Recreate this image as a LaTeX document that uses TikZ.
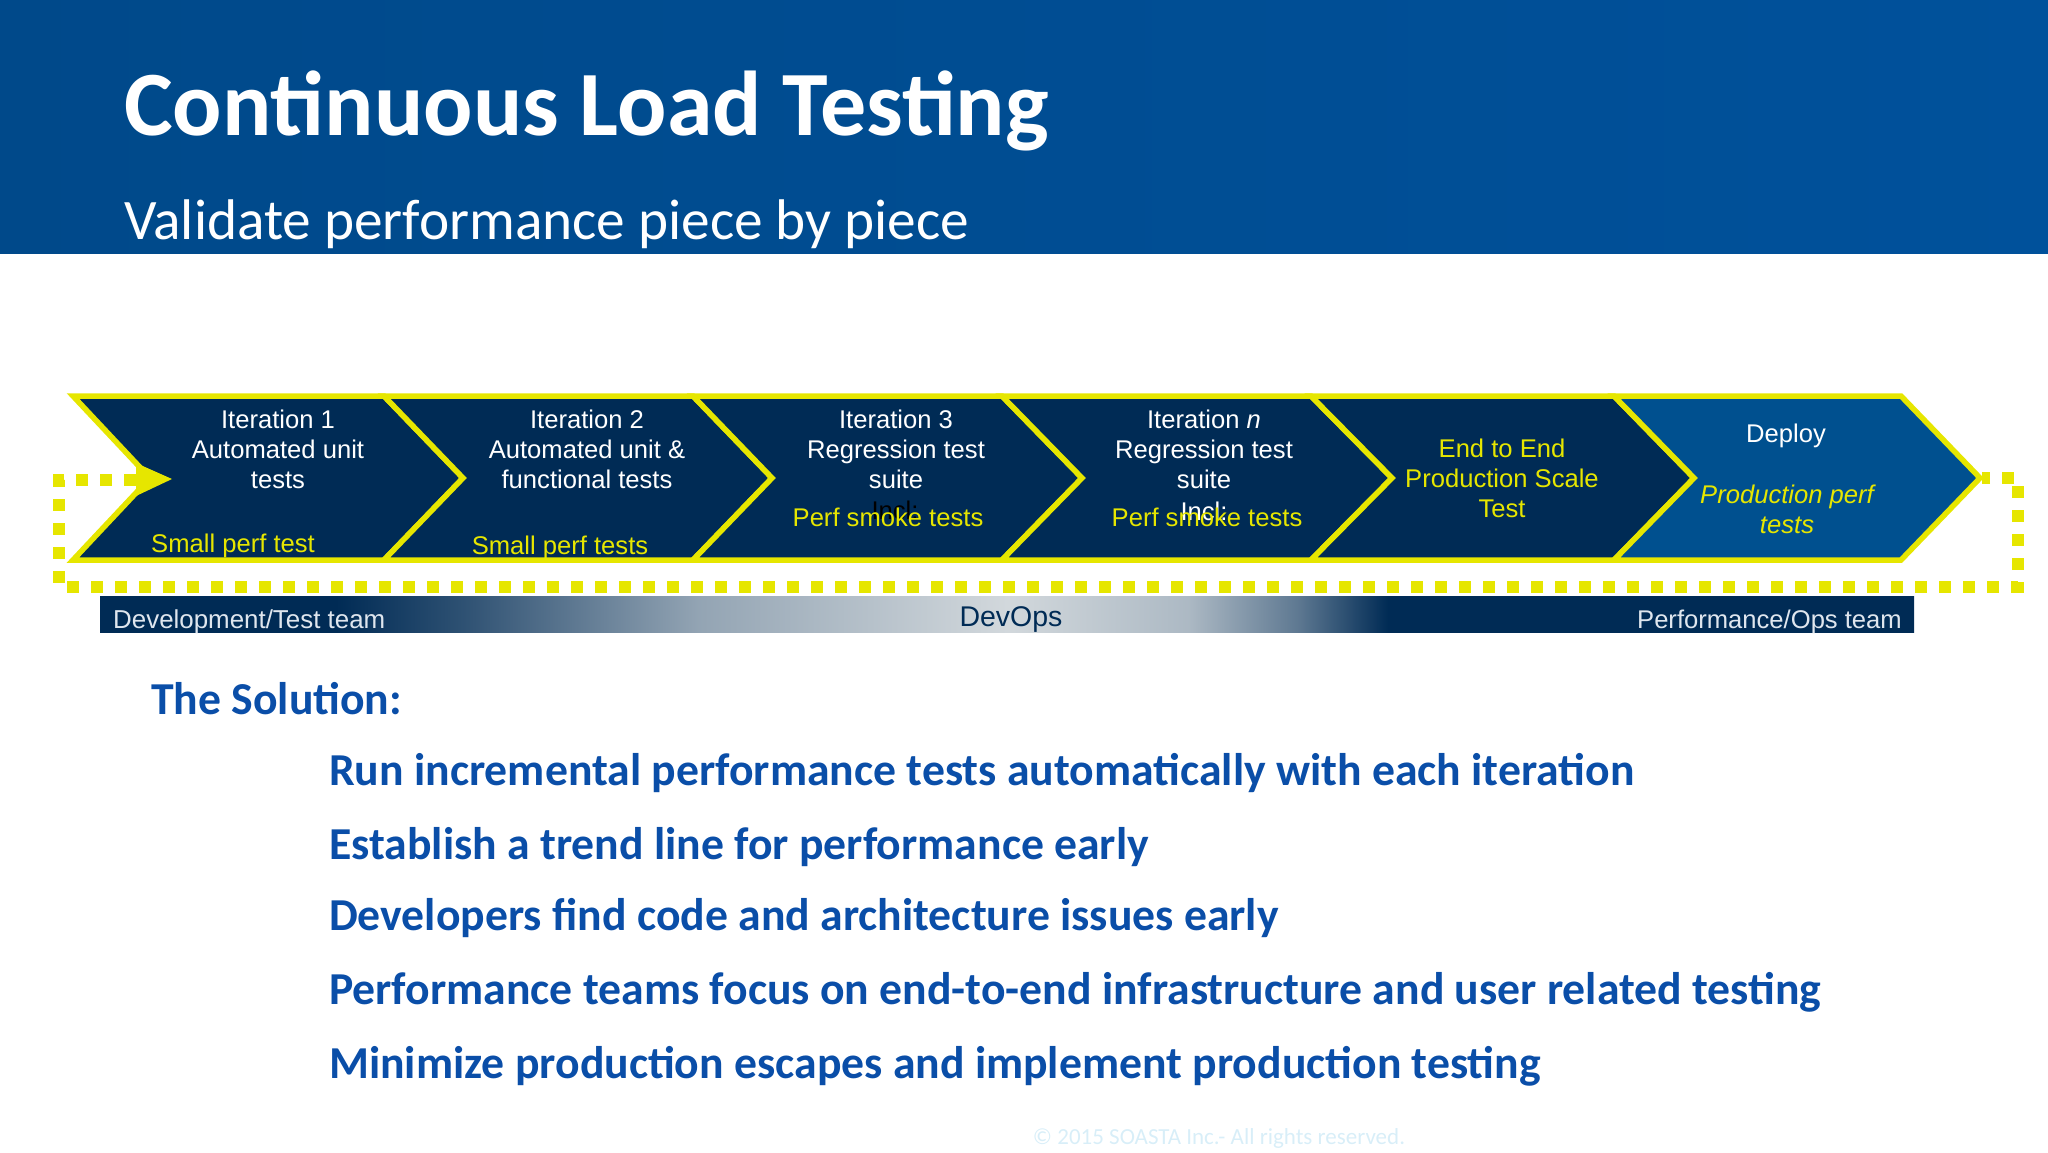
\documentclass[tikz,border=0pt]{standalone}
\usepackage{fontspec}
\setmainfont{Liberation Sans}
\newfontfamily\calibri{Carlito}
\definecolor{headblue}{HTML}{00519B}
\definecolor{headdark}{HTML}{00498A}
\definecolor{navy}{HTML}{002B55}
\definecolor{deployblue}{HTML}{00508F}
\definecolor{loopyellow}{HTML}{E6E600}
\definecolor{bodyblue}{HTML}{0A4EA8}
\definecolor{barmid}{HTML}{D2D8DC}
\definecolor{barlight}{HTML}{DFE6EE}
\definecolor{footblue}{HTML}{D8EEF8}
\pgfdeclarehorizontalshading{devopsbar}{100bp}{
  color(0bp)=(navy); color(31.5bp)=(navy);
  color(35bp)=(navy!78!barmid); color(41.5bp)=(navy!30!barmid);
  color(50bp)=(barmid); color(55bp)=(navy!18!barmid);
  color(58bp)=(navy!55!barmid); color(60.5bp)=(navy); color(100bp)=(navy)}
\tikzset{
  chevron/.style={draw=loopyellow,line width=5.5pt,line join=miter,miter limit=10,fill=navy},
  steptext/.style={align=center,text=white,font=\fontsize{25.6}{30}\selectfont},
  perftext/.style={align=center,text=loopyellow,font=\fontsize{25.6}{30}\selectfont},
  bartext/.style={text=barlight,font=\fontsize{25.6}{30}\selectfont},
  solution/.style={anchor=base west,text=bodyblue,font=\calibri\bfseries\fontsize{45.7}{50}\selectfont},
}
\begin{document}
\begin{tikzpicture}[x=1pt,y=-1pt]
    \useasboundingbox (0,0) rectangle (2048,1152);
    \shade[left color=headdark,right color=headblue] (0,0) rectangle (2048,253);
    \node[anchor=base west,inner sep=0pt,text=white,font=\calibri\bfseries\fontsize{92}{96}\selectfont] (title) at (124,135) {Continuous Load Testing};
    \node[anchor=base west,inner sep=0pt,text=white,font=\calibri\fontsize{57.3}{60}\selectfont] (subtitle) at (124,239) {Validate performance piece by piece};
    % dotted loop round the chevrons
    \coordinate (loopstart) at (136,480);
    \coordinate (loopa) at (59,480);
    \coordinate (loopb) at (59,587);
    \coordinate (loopc) at (2018,587);
    \coordinate (loopd) at (2018,478);
    \coordinate (loopend) at (1982,478);
    \draw[loopyellow,line width=12pt,dash pattern=on 12pt off 12pt] (loopstart)--(loopa)--(loopb)--(loopc)--(loopd)--(loopend);
    \foreach \xa/\tipa/\xb/\tipb in {73/150/384/463,384/463/693/772,693/772/1002/1082,1002/1082/1311/1392,1311/1392/1614/1694}{
        \draw[chevron] (\xa,396)--(\xb,396)--(\tipb,478)--(\xb,560)--(\xa,560)--(\tipa,478)--cycle;
    }
    \draw[chevron,fill=deployblue] (1614,396)--(1901,396)--(1980,478)--(1901,560)--(1614,560)--(1694,478)--cycle;
    \fill[loopyellow] (136,463)--(172,479)--(136,496)--cycle;
    % chevron texts
    \node[steptext] (iterone) at (278,449) {Iteration 1\\Automated unit\\tests};
    \node[steptext] (itertwo) at (587,449) {Iteration 2\\Automated unit \&\\functional tests};
    \node[steptext] (iterthree) at (896,449) {Iteration 3\\Regression test\\suite};
    \node[steptext] (itern) at (1204,449) {Iteration \textit{n}\\Regression test\\suite};
    \node[steptext,text=black] (inclthree) at (895,510) {Incl:};
    \node[steptext] (incln) at (1204,511) {Incl:};
    \node[perftext] (smallone) at (233,546) {Small perf test};
    \node[perftext] (smalltwo) at (560,548) {Small perf tests};
    \node[perftext] (smokethree) at (888,517) {Perf smoke tests};
    \node[perftext] (smoken) at (1207,517) {Perf smoke tests};
    \node[perftext] (endtoend) at (1502,478) {End to End\\Production Scale\\Test};
    \node[steptext] (deploy) at (1786,436) {Deploy};
    \node[perftext,font=\itshape\fontsize{25.6}{30}\selectfont] (prodperf) at (1787,509) {Production perf\\tests};
    % team bar
    \shade[shading=devopsbar] (100,596) rectangle (1914,632);
    \node[bartext,anchor=west,inner sep=0pt,font=\fontsize{25.9}{30}\selectfont] (devteam) at (113,622) {Development/Test team};
    \node[bartext,text=navy,inner sep=0pt,font=\fontsize{28.5}{32}\selectfont] (devops) at (1011,619) {DevOps};
    \node[bartext,anchor=east,inner sep=0pt] (opsteam) at (1902,622) {Performance/Ops team};
    % solution list
    \node[solution,inner sep=0pt] (soltitle) at (151,714) {The Solution:};
    \foreach \y/\name/\txt in {785/solone/Run incremental performance tests automatically with each iteration,
        859/soltwo/Establish a trend line for performance early,
        930/solthree/Developers find code and architecture issues early,
        1004/solfour/Performance teams focus on end-to-end infrastructure and user related testing,
        1078/solfive/Minimize production escapes and implement production testing}{
        \node[solution,inner sep=0pt] (\name) at (329,\y) {\txt};
    }
    \node[text=footblue,inner sep=0pt,font=\calibri\fontsize{23}{26}\selectfont] (footer) at (1219,1138) {© 2015 SOASTA Inc.- All rights reserved.};
\end{tikzpicture}
\end{document}
